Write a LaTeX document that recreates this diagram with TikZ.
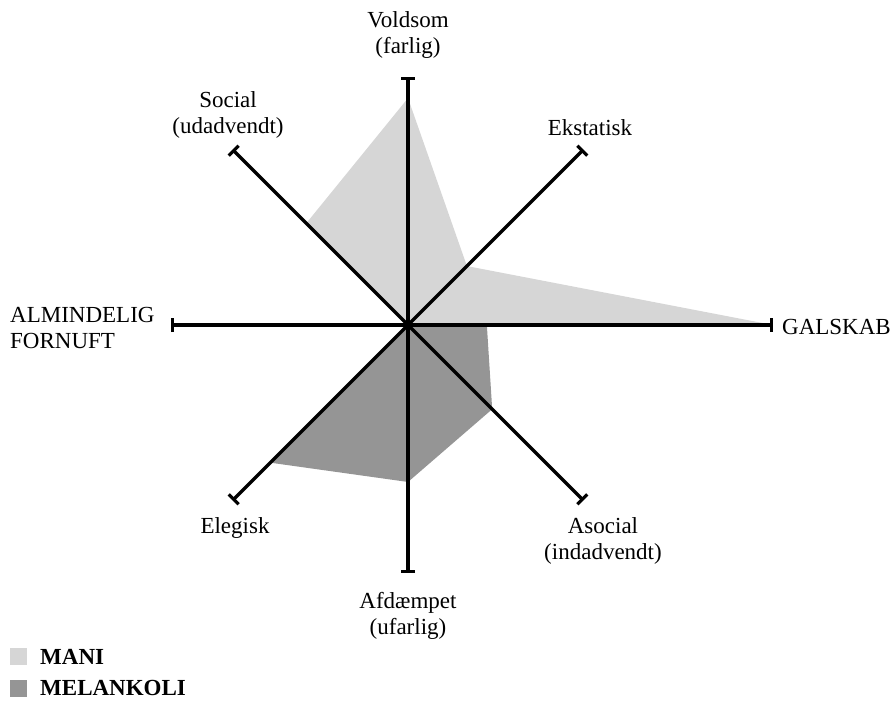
\documentclass[tikz,border=0pt]{standalone}
\usepackage{fontspec}
\setmainfont{Liberation Serif}
\usetikzlibrary{arrows.meta}
\usetikzlibrary{calc}
\definecolor{manigray}{HTML}{D6D6D6}
\definecolor{melgray}{HTML}{959595}

\begin{document}
\begin{tikzpicture}[x=1pt,y=-1pt,
        axis/.style={line width=3.2pt,-{Bar[width=14pt]}},
        lbl/.style={font=\fontsize{23}{26}\selectfont,align=center,inner sep=0pt},
        key/.style={minimum size=17pt,inner sep=0pt},
        keytxt/.style={anchor=west,inner sep=0pt,font=\fontsize{23}{26}\selectfont\bfseries}]
        \newcommand{\arm}{248}
        \newcommand{\dg}{175.4}
        \useasboundingbox (0,0) rectangle (894,701);

        \coordinate (c) at (408,325); %center
        \coordinate (vold) at ($(c)+(0,-\arm)$);
        \coordinate (afd) at ($(c)+(0,\arm)$);
        \coordinate (alm) at ($(c)+(-237,0)$);
        \coordinate (gal) at ($(c)+(365,0)$);
        \coordinate (soc) at ($(c)+(-\dg,-\dg)$);
        \coordinate (ekst) at ($(c)+(\dg,-\dg)$);
        \coordinate (eleg) at ($(c)+(-\dg,\dg)$);
        \coordinate (asoc) at ($(c)+(\dg,\dg)$);

        \fill[manigray] (c) -- ($(c)!0.58!(soc)$) -- ($(c)!0.915!(vold)$) -- ($(c)!0.336!(ekst)$) -- (gal) -- cycle; %mani
        \fill[melgray] (c) -- ($(c)!0.216!(gal)$) -- ($(c)!0.48!(asoc)$) -- ($(c)!0.633!(afd)$) -- ($(c)!0.785!(eleg)$) -- cycle; %melankoli

        \foreach \e in {vold,afd,alm,gal,soc,ekst,eleg,asoc}
            \draw[axis] (c) -- (\e);

        \node[lbl] (voldlbl) at (408,35) {Voldsom\\(farlig)};
        \node[lbl] (soclbl) at (228,115) {Social\\(udadvendt)};
        \node[lbl] (ekstlbl) at (590,128) {Ekstatisk};
        \node[lbl,anchor=west,align=left] (almlbl) at (10,328) {ALMINDELIG\\FORNUFT};
        \node[lbl,anchor=east] (gallbl) at (891,327) {GALSKAB};
        \node[lbl] (eleglbl) at (235,528) {Elegisk};
        \node[lbl] (asoclbl) at (603,541) {Asocial\\(indadvendt)};
        \node[lbl] (afdlbl) at (408,616) {Afdæmpet\\(ufarlig)};

        \node[key,fill=manigray] (manikey) at (18.5,656.5) {};
        \node[keytxt] (manitxt) at (40,657) {MANI};
        \node[key,fill=melgray] (melkey) at (18.5,688.5) {};
        \node[keytxt] (meltxt) at (40,688) {MELANKOLI};
    \end{tikzpicture}
\end{document}
